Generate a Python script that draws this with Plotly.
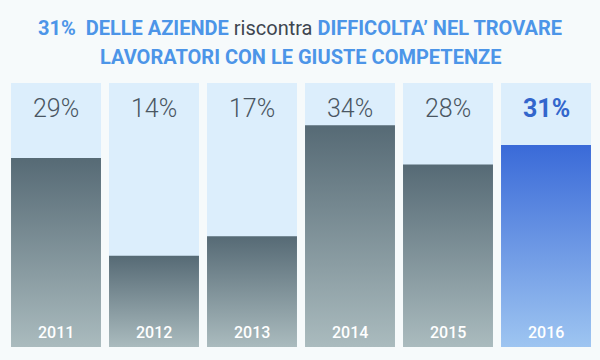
import plotly.graph_objects as go

years = ["2011", "2012", "2013", "2014", "2015", "2016"]
values = [29, 14, 17, 34, 28, 31]
labels = ["29%", "14%", "17%", "34%", "28%", "31%"]
highlight = "2016"

BG = "#F6FAFB"
COL_BG = "#DCEEFC"
HALF = 0.459
COL_TOP = 40.5

fig = go.Figure()

shapes = []
for i, yr in enumerate(years):
    shapes.append(dict(type="rect", xref="x", yref="y", x0=i - HALF, x1=i + HALF,
                       y0=0, y1=COL_TOP, fillcolor=COL_BG, line=dict(width=0), layer="below"))

for i, (yr, v) in enumerate(zip(years, values)):
    if yr == highlight:
        cs = [[0, "#9EC5F1"], [1, "#3A6AD8"]]
    else:
        cs = [[0, "#AABBBE"], [1, "#566A75"]]
    fig.add_trace(go.Scatter(
        x=[i - HALF, i + HALF, i + HALF, i - HALF, i - HALF],
        y=[0, 0, v, v, 0],
        mode="lines", line=dict(width=0),
        fill="toself",
        fillgradient=dict(type="vertical", colorscale=cs),
        hoverinfo="skip", showlegend=False,
    ))

ann = []
for i, (yr, lab) in enumerate(zip(years, labels)):
    if yr == highlight:
        f = dict(family="Roboto", size=25, color="#3366CC", weight=700)
    else:
        f = dict(family="Roboto", size=25, color="#4A5662", weight=300)
    ann.append(dict(x=i, y=36.6, xref="x", yref="y", text=lab, showarrow=False,
                    font=f, xanchor="center", yanchor="middle"))
    ann.append(dict(x=i, y=2.3, xref="x", yref="y", text=yr, showarrow=False,
                    font=dict(family="Roboto", size=16, color="white", weight=500),
                    xanchor="center", yanchor="middle"))

TB = "#4C95E8"
title1 = ("<b>31%  DELLE AZIENDE</b> <span style='color:#3E4650'>riscontra</span> "
          "<b>DIFFICOLTA’ NEL TROVARE</b>")
title2 = "<b>LAVORATORI CON LE GIUSTE COMPETENZE</b>"
ann.append(dict(x=0.5, y=1 - 28 / 360, xref="paper", yref="paper", text=title1, showarrow=False,
                font=dict(family="Roboto", size=20, color=TB),
                xanchor="center", yanchor="middle"))
ann.append(dict(x=0.5, y=1 - 57.5 / 360, xref="paper", yref="paper", text=title2, showarrow=False,
                font=dict(family="Roboto", size=20, color=TB),
                xanchor="center", yanchor="middle"))

fig.update_layout(
    width=600, height=360,
    margin=dict(l=0, r=0, t=0, b=0),
    paper_bgcolor=BG, plot_bgcolor=BG,
    xaxis=dict(range=[-0.5714, 5.551], visible=False, fixedrange=True),
    yaxis=dict(range=[-1.994, 53.22], visible=False, fixedrange=True),
    shapes=shapes, annotations=ann,
    showlegend=False,
)

fig.write_html("out.html", config={"displayModeBar": False},
               post_script="document.body.style.margin='0';document.body.style.background='#F6FAFB';")
